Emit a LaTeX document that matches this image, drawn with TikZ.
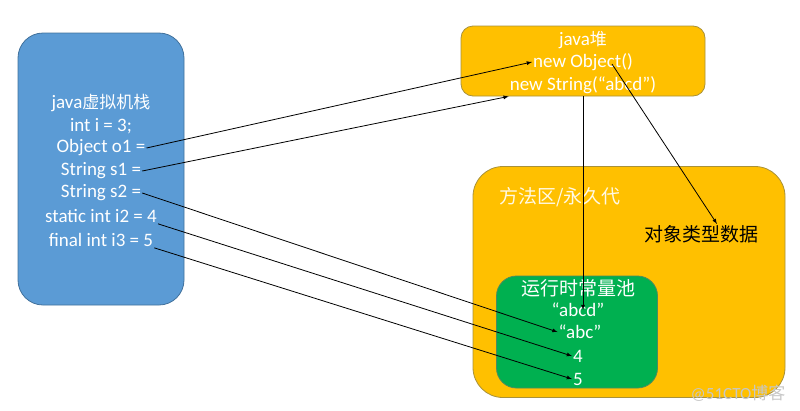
\documentclass[tikz,border=0pt]{standalone}
\usepackage{fontspec}
\setmainfont{Carlito}
\newfontfamily\cjk{Noto Sans CJK SC}
\definecolor{stackblue}{HTML}{5B9BD5}
\definecolor{stackline}{HTML}{41719C}
\definecolor{heaporange}{HTML}{FFC000}
\definecolor{heapline}{HTML}{A8913A}
\definecolor{poolgreen}{HTML}{00B050}
\definecolor{poolline}{HTML}{4F8A5E}
\begin{document}
\begin{tikzpicture}[x=1pt, y=-1pt,
  area/.style={draw, line width=0.8pt, inner sep=0pt},
  txt/.style={text=white, inner sep=1pt, font=\fontsize{19}{21}\selectfont},
  ref/.style={-latex, line width=0.8pt}]
  \useasboundingbox (0,0) rectangle (800,410);
  % Areas
  \node[area, draw=stackline, fill=stackblue, rounded corners=25pt, minimum width=166pt, minimum height=272pt] (stack) at (101,169) {};
  \node[area, draw=heapline, fill=heaporange, rounded corners=12pt, minimum width=244pt, minimum height=70pt] (heap) at (583,61) {};
  \node[area, draw=heapline, fill=heaporange, rounded corners=30pt, minimum width=312pt, minimum height=231pt] (method) at (629,282) {};
  \node[area, draw=poolline, fill=poolgreen, rounded corners=20pt, minimum width=161pt, minimum height=112pt] (pool) at (577,332) {};
  % Stack frame
  \node[txt] (title) at (101,103) {java{\cjk\fontsize{17}{19}\selectfont 虚拟机栈}};
  \node[txt] (i) at (101,126) {int i = 3;};
  \node[txt] (o1) at (101,148) {Object o1 =};
  \node[txt] (s1) at (101,171) {String s1 =};
  \node[txt] (s2) at (101,193) {String s2 =};
  \node[txt] (i2) at (101,216) {static int i2 = 4};
  \node[txt] (i3) at (101,240) {final int i3 = 5};
  % Heap
  \node[txt] (heapname) at (583,40) {java{\cjk\fontsize{17}{19}\selectfont 堆}};
  \node[txt] (newobj) at (583,62) {new Object()};
  \node[txt] (newstr) at (583,85) {new String(“abcd”)};
  % Method area
  \node[txt, anchor=west, text=white!90!heaporange, font=\fontsize{19}{21}\selectfont\cjk] (methodname) at (498,197) {方法区/永久代};
  \node[txt, text=black, font=\fontsize{19}{21}\selectfont\cjk] (typedata) at (701,234) {对象类型数据};
  % Runtime constant pool
  \node[txt, font=\fontsize{19}{21}\selectfont\cjk] (poolname) at (578,288) {运行时常量池};
  \node[txt] (abcd) at (578,310) {“abcd”};
  \node[txt] (abc) at (580,332) {“abc”};
  \node[txt] (four) at (578,356) {4};
  \node[txt] (five) at (578,379) {5};
  \node[text=black!22, font=\fontsize{17}{19}\selectfont] (mark) at (738,393) {@51CTO{\cjk 博客}};
  % References
  \coordinate (objref) at (612,64);
  \draw[ref] (o1.east) -- (newobj.west);
  \draw[ref] (s1.east) -- (newstr.west |- heap.south);
  \draw[ref] (heap.south) -- (heap.south |- abcd.center);
  \draw[ref] (objref) -- ([xshift=16pt]typedata.north);
  \draw[ref] (s2.east) -- (abc.west);
  \draw[ref] (i2.south east) -- (four.west);
  \draw[ref] (i3.south east) -- (five.west);
\end{tikzpicture}
\end{document}
